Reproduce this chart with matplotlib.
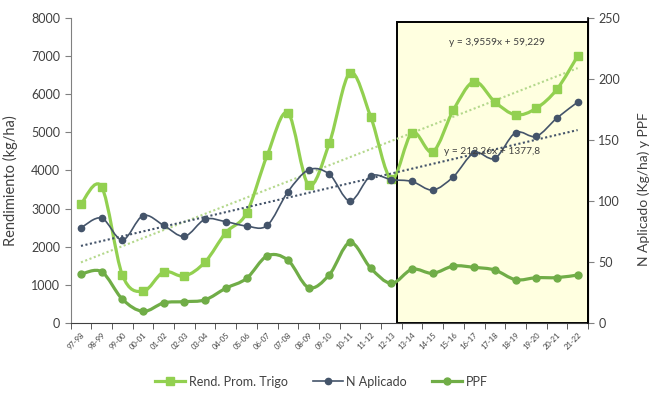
import numpy as np
import matplotlib
matplotlib.use("Agg")
from matplotlib import pyplot as plt
from matplotlib.path import Path
from matplotlib.patches import PathPatch, Rectangle
from matplotlib.lines import Line2D

plt.rcParams['font.family'] = ['Lato', 'DejaVu Sans']

# campañas
campanias = ['97-98', '98-99', '99-00', '00-01', '01-02', '02-03', '03-04', '04-05',
             '05-06', '06-07', '07-08', '08-09', '09-10', '10-11', '11-12', '12-13',
             '13-14', '14-15', '15-16', '16-17', '17-18', '18-19', '19-20', '20-21', '21-22']

# rendimiento promedio trigo (kg/ha), eje izquierdo
rend_trigo = [3120, 3570, 1260, 830, 1340, 1230, 1600, 2370, 2880, 4400, 5510, 3620,
              4710, 6560, 5410, 3780, 4990, 4490, 5590, 6330, 5800, 5460, 5630, 6130, 7000]

# N aplicado (kg/ha), eje derecho
n_aplicado = [78, 86, 68, 88, 80, 71, 85, 83, 79.5, 80, 107.5, 125.5, 122, 100, 120.5,
              117.5, 116, 109, 120, 139.5, 135, 156, 153, 168, 181]

# PPF, eje derecho
ppf = [40, 42, 19.5, 9.5, 16.5, 17.5, 19, 28.5, 36.5, 55, 51.5, 29, 39.5, 66, 45,
       32.5, 44, 40.7, 46.7, 45.6, 43.4, 35.5, 37.1, 37.2, 39.3]

# ecuaciones de tendencia (como en el grafico)
tend_rend = (212.26, 1377.8)
tend_n = (3.9559, 59.229)

c_rend = '#92D050'
c_ppf = '#70AD47'
c_n = '#44546A'


def smooth_path(x, y):
    # curva suavizada tipo excel (bezier) que pasa por los puntos
    pts = np.column_stack([x, y]).astype(float)
    n = len(pts)
    verts = [pts[0]]
    codes = [Path.MOVETO]
    for i in range(n - 1):
        p0 = pts[i - 1] if i > 0 else pts[i]
        p1 = pts[i]
        p2 = pts[i + 1]
        p3 = pts[i + 2] if i + 2 < n else pts[i + 1]
        verts += [p1 + (p2 - p0) / 6, p2 - (p3 - p1) / 6, p2]
        codes += [Path.CURVE4] * 3
    return Path(verts, codes)


x = np.arange(len(campanias))

fig = plt.figure(figsize=(6.52, 3.95), dpi=100)
ax = fig.add_axes([0.1083, 0.1823, 0.7935, 0.7722])
ax2 = ax.twinx()

ax.set_xlim(-0.5, len(campanias) - 0.5)
ax.set_ylim(0, 8000)
ax2.set_ylim(0, 250)

# recuadro amarillo
ax.add_patch(Rectangle((15.25, 0), len(campanias) - 0.5 - 15.25, 7900,
                       facecolor='#FFFFE0', edgecolor='black', lw=1.4, zorder=0))

# tendencias
xt = x + 1
ax.plot(x, tend_rend[0] * xt + tend_rend[1], ls=(0, (1, 1.2)), color='#B4D88C', lw=1.5, zorder=2)
ax2.plot(x, tend_n[0] * xt + tend_n[1], ls=(0, (1, 1.2)), color=c_n, lw=1.5, zorder=2)

# series
ax.add_patch(PathPatch(smooth_path(x, rend_trigo), fill=False, edgecolor=c_rend, lw=2.3, zorder=3))
ax.plot(x, rend_trigo, ls='none', marker='s', ms=6, color=c_rend, zorder=4)

ax2.add_patch(PathPatch(smooth_path(x, ppf), fill=False, edgecolor=c_ppf, lw=2.3, zorder=3))
ax2.plot(x, ppf, ls='none', marker='o', ms=5, color=c_ppf, zorder=4)

ax2.add_patch(PathPatch(smooth_path(x, n_aplicado), fill=False, edgecolor=c_n, lw=1.2, zorder=5))
ax2.plot(x, n_aplicado, ls='none', marker='o', ms=4.5, color=c_n, zorder=6)

ax2.text(0.917, 0.918, 'y = 3,9559x + 59,229', transform=ax.transAxes, ha='right',
         va='center', fontsize=7.3, color='#404040')
ax2.text(0.907, 0.561, 'y = 212,26x + 1377,8', transform=ax.transAxes, ha='right',
         va='center', fontsize=7.3, color='#404040', zorder=7)

# ejes
ax.set_yticks(np.arange(0, 8001, 1000))
ax2.set_yticks(np.arange(0, 251, 50))
ax.set_xticks(x)
ax.set_xticklabels(campanias, rotation=45, ha='right', rotation_mode='anchor', fontsize=5.5,
                   color='#404040')
ax.set_xticks(np.arange(-0.5, len(campanias)), minor=True)
ax.tick_params(axis='x', which='major', length=0, pad=6)
ax.tick_params(axis='x', which='minor', length=4, color='#404040')
ax.tick_params(axis='y', labelsize=9, colors='#404040', length=4)
ax.tick_params(axis='y', color='#808080')
ax2.tick_params(axis='y', labelsize=9, labelcolor='#404040', length=4, color='#808080')

for a in (ax, ax2):
    a.spines['top'].set_visible(False)
ax.spines['left'].set_color('#808080')
ax.spines['bottom'].set_color('#404040')
ax2.spines['left'].set_visible(False)
ax2.spines['bottom'].set_visible(False)
ax2.spines['right'].set_color('black')
ax2.spines['right'].set_linewidth(1.2)

ax.set_ylabel('Rendimiento (kg/ha)', fontsize=10.5, color='#404040')
ax.yaxis.set_label_coords(-0.102, 0.466)
ax2.set_ylabel('N Aplicado (Kg/ha) y PPF', fontsize=10, color='#404040')
ax2.yaxis.set_label_coords(1.096, 0.44)

handles = [
    Line2D([], [], color=c_rend, lw=2.3, marker='s', ms=6),
    Line2D([], [], color=c_n, lw=1.2, marker='o', ms=4.5),
    Line2D([], [], color=c_ppf, lw=2.3, marker='o', ms=5),
]
fig.legend(handles, ['Rend. Prom. Trigo', 'N Aplicado', 'PPF'], loc='center',
           bbox_to_anchor=(0.493, 0.034), ncol=3, frameon=False, fontsize=9,
           handlelength=2.4, columnspacing=2.0, handletextpad=0.3, labelcolor='#404040')

fig.savefig('out.png', dpi=100)
